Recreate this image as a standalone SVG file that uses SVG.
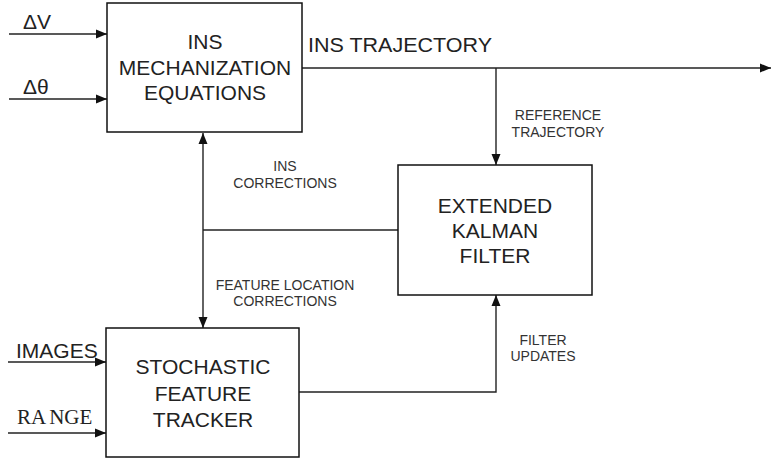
<svg xmlns="http://www.w3.org/2000/svg" width="771" height="462" viewBox="0 0 771 462">
<style>
.box{fill:#fff;stroke:#111;stroke-width:1.5}
.ln{fill:none;stroke:#222;stroke-width:1.4}
.big{font-family:"Liberation Sans",Arial,sans-serif;font-size:21px;fill:#222;text-anchor:middle}
.lbl{font-family:"Liberation Sans",Arial,sans-serif;font-size:21px;fill:#222}
.sm{font-family:"Liberation Sans",Arial,sans-serif;font-size:14px;fill:#333;text-anchor:middle}
.ser{font-family:"Liberation Serif","Times New Roman",serif;font-size:21px;fill:#222}
</style>
<defs>
<marker id="ah" markerUnits="userSpaceOnUse" markerWidth="12" markerHeight="10" refX="11" refY="5" orient="auto">
<path d="M0,0.5 L11,5 L0,9.5 Z" fill="#111"/>
</marker>
<marker id="as" markerUnits="userSpaceOnUse" markerWidth="12" markerHeight="10" refX="1" refY="5" orient="auto">
<path d="M12,0.5 L1,5 L12,9.5 Z" fill="#111"/>
</marker>
</defs>
<rect width="771" height="462" fill="#fff"/>
<g id="connectors">
<line class="ln" x1="9" y1="34" x2="107" y2="34" marker-end="url(#ah)"/>
<line class="ln" x1="9" y1="99" x2="107" y2="99" marker-end="url(#ah)"/>
<line class="ln" x1="302" y1="68" x2="771" y2="68" marker-end="url(#ah)"/>
<line class="ln" x1="496" y1="68" x2="496" y2="165" marker-end="url(#ah)"/>
<line class="ln" x1="203" y1="133" x2="203" y2="328" marker-start="url(#as)" marker-end="url(#ah)"/>
<line class="ln" x1="203" y1="230" x2="398" y2="230"/>
<line class="ln" x1="8" y1="362" x2="106" y2="362" marker-end="url(#ah)"/>
<line class="ln" x1="8" y1="433" x2="106" y2="433" marker-end="url(#ah)"/>
<polyline class="ln" points="299,392 496,392 496,295" marker-end="url(#ah)"/>
<text class="lbl" x="23" y="29">ΔV</text>
<text class="lbl" x="23" y="94">Δθ</text>
<text class="lbl" x="308" y="52" textLength="184" lengthAdjust="spacingAndGlyphs">INS TRAJECTORY</text>
<text class="sm" x="558" y="120">REFERENCE</text>
<text class="sm" x="558" y="137">TRAJECTORY</text>
<text class="sm" x="285" y="171">INS</text>
<text class="sm" x="285" y="188">CORRECTIONS</text>
<text class="sm" x="285" y="290">FEATURE LOCATION</text>
<text class="sm" x="285" y="306">CORRECTIONS</text>
<text class="sm" x="543" y="345">FILTER</text>
<text class="sm" x="543" y="361">UPDATES</text>
<text class="lbl" x="16" y="358">IMAGES</text>
<text class="ser" x="17" y="424">RA<tspan dx="3">NGE</tspan></text>
</g>
<g id="ins">
<rect class="box" x="107" y="3" width="195" height="129"/>
<text class="big" x="205" y="49">INS</text>
<text class="big" x="205" y="75">MECHANIZATION</text>
<text class="big" x="205" y="100">EQUATIONS</text>
</g>
<g id="ekf">
<rect class="box" x="398" y="165" width="194" height="130"/>
<text class="big" x="495" y="213">EXTENDED</text>
<text class="big" x="495" y="238">KALMAN</text>
<text class="big" x="495" y="263">FILTER</text>
</g>
<g id="sft">
<rect class="box" x="106" y="328" width="193" height="129"/>
<text class="big" x="203" y="374">STOCHASTIC</text>
<text class="big" x="203" y="401">FEATURE</text>
<text class="big" x="203" y="427">TRACKER</text>
</g>
</svg>
